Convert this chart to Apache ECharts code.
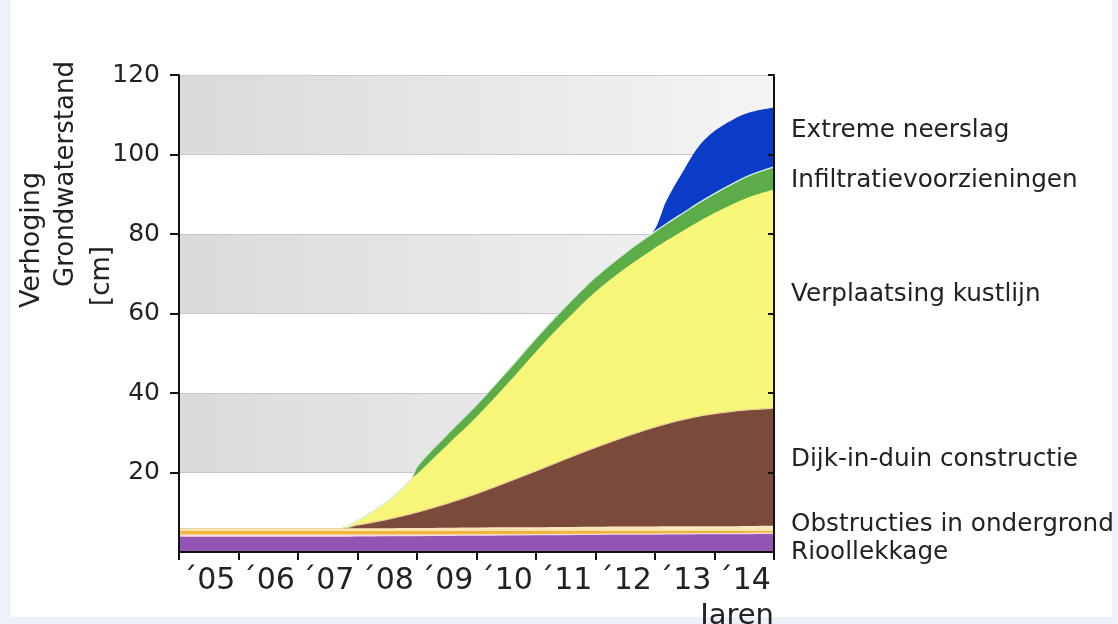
<!DOCTYPE html>
<html><head><meta charset="utf-8">
<script src="https://cdn.jsdelivr.net/npm/echarts@6/dist/echarts.min.js"></script>
<style>
html,body{margin:0;padding:0;background:#edf1fa;width:1118px;height:624px;overflow:hidden}
#frame{position:absolute;left:11px;top:0;width:1101px;height:617px;background:#fff}
#chart{position:absolute;left:0;top:0;width:1118px;height:624px}
</style></head><body>
<div id="frame"></div><div id="chart"></div>
<script>
// ---- data ----
const yearLabels = ['\u00b405','\u00b406','\u00b407','\u00b408','\u00b409','\u00b410','\u00b411','\u00b412','\u00b413','\u00b414'];
const yTicks = [0, 20, 40, 60, 80, 100, 120];
const years = [2005, 2007.7, 2008, 2008.5, 2008.9, 2009, 2009.5, 2010, 2010.5, 2011, 2011.5, 2012, 2012.5, 2012.95, 2013.2, 2013.5, 2013.75, 2014, 2014.3, 2014.6, 2015];
const rioollekkage = [4.0, 4.0, 4.05, 4.1, 4.15, 4.15, 4.2, 4.25, 4.3, 4.35, 4.4, 4.45, 4.5, 4.5, 4.55, 4.55, 4.6, 4.6, 4.6, 4.65, 4.7];
const obstructies = [1.9, 1.9, 1.9, 1.9, 1.9, 1.9, 1.9, 1.9, 1.9, 1.9, 1.9, 1.9, 1.9, 1.9, 1.9, 1.9, 1.9, 1.9, 1.9, 1.9, 1.9];
const dijkInDuin = [0, 0, 0.85, 2.2, 3.55, 3.95, 6.1, 8.55, 11.3, 14.15, 17.1, 19.95, 22.6, 24.8, 25.85, 26.95, 27.7, 28.3, 28.9, 29.25, 29.6];
const kustlijn = [0, 0, 1.1, 4.6, 8.7, 9.6, 14.6, 19.3, 24.5, 30.0, 34.9, 39.2, 42.4, 44.8, 46.1, 47.7, 49.1, 50.5, 52.1, 53.6, 55.0];
const infiltratie = [0, 0, 0, 0, 0, 1.9, 2.7, 3.0, 3.2, 3.35, 3.5, 3.65, 3.85, 4.1, 4.25, 4.45, 4.65, 4.85, 5.1, 5.4, 5.7];
const neerslag = [0, 0, 0, 0, 0, 0, 0, 0, 0, 0, 0, 0, 0, 0, 5.95, 10.95, 14.35, 15.75, 16.1, 15.8, 14.9];
const seriesNames = ['Rioollekkage', 'Obstructies in ondergrond', 'Dijk-in-duin constructie', 'Verplaatsing kustlijn', 'Infiltratievoorzieningen', 'Extreme neerslag'];
const yTitleLines = ['Verhoging', 'Grondwaterstand', '[cm]'];
const xTitle = 'Jaren';

// ---- cumulative layers (stack computed from the arrays) ----
const layers = [rioollekkage, obstructies, dijkInDuin, kustlijn, infiltratie, neerslag];
const cumul = [];
layers.forEach((arr, k) => {
  cumul.push(arr.map((v, i) => v + (k ? cumul[k - 1][i] : 0)));
});

const chart = echarts.init(document.getElementById('chart'), null, {renderer: 'canvas'});
const pairs = arr => years.map((y, i) => [y, arr[i]]);
const font = 'DejaVu Sans, Verdana, sans-serif';

const grayBand = new echarts.graphic.LinearGradient(0, 0, 1, 0, [
  {offset: 0, color: '#dadada'}, {offset: 1, color: '#f5f5f5'}
]);
const obstrGrad = new echarts.graphic.LinearGradient(0, 0, 0, 1, [
  {offset: 0, color: '#fbe9c0'}, {offset: 0.2, color: '#fbe4ac'},
  {offset: 0.205, color: '#f2b43c'}, {offset: 0.33, color: '#f2b43c'},
  {offset: 0.335, color: '#f7dede'}, {offset: 1, color: '#f7dede'}
]);
const colors = ['#9355b3', obstrGrad, '#7b4a3b', '#f8f679', '#5cad4a', '#0b3cc8'];
const lines = ['#f7dede', null, '#ecd39a', null, '#dcefe0', null];

const series = [];
for (let k = layers.length - 1; k >= 0; k--) {
  series.push({
    name: seriesNames[k], type: 'line', xAxisIndex: 1, yAxisIndex: 0,
    data: pairs(cumul[k]), symbol: 'none', smooth: 0.35,
    lineStyle: lines[k] ? {color: lines[k], width: 1.3} : {width: 0},
    areaStyle: {color: colors[k], opacity: 1, origin: 'start'},
    emphasis: {disabled: true}, silent: true
  });
}

const rightLabels = [
  {t: seriesNames[5], y: 131},
  {t: seriesNames[4], y: 181},
  {t: seriesNames[3], y: 295},
  {t: seriesNames[2], y: 460},
  {t: seriesNames[1], y: 525},
  {t: seriesNames[0], y: 553}
];

const option = {
  animation: false,
  backgroundColor: 'transparent',
  grid: {left: 179, top: 75, width: 595, height: 477, outerBoundsMode: 'none', containLabel: false},
  xAxis: [
    {type: 'category', data: yearLabels, boundaryGap: true, position: 'bottom', z: 10,
     axisLine: {show: true, lineStyle: {color: '#111', width: 2}},
     axisTick: {show: true, length: 8, lineStyle: {color: '#111', width: 2}},
     axisLabel: {interval: 0, fontSize: 30, color: '#222', fontFamily: font, margin: 14},
     splitLine: {show: false},
     name: xTitle, nameLocation: 'end', nameGap: 0,
     nameTextStyle: {fontSize: 29, color: '#222', fontFamily: font, align: 'right', verticalAlign: 'top', padding: [50, 0, 0, 0]}},
    {type: 'value', min: 2005, max: 2015, show: false}
  ],
  yAxis: [
    {type: 'value', min: 0, max: 120, interval: 20, position: 'left',
     axisLine: {show: false}, axisTick: {show: false},
     axisLabel: {fontSize: 25, color: '#222', fontFamily: font, margin: 19,
       formatter: v => yTicks.indexOf(v) > 0 ? String(v) : ''},
     splitLine: {show: true, lineStyle: {color: '#c8c8c8', width: 1}},
     splitArea: {show: true, areaStyle: {color: ['#ffffff', grayBand]}}},
    {type: 'value', min: 0, max: 120, interval: 20, position: 'right', z: 10,
     axisLine: {show: true, lineStyle: {color: '#111', width: 2}},
     axisTick: {show: true, inside: true, length: 6, lineStyle: {color: '#111', width: 2}},
     axisLabel: {show: false}, splitLine: {show: false}},
    {type: 'value', min: 0, max: 120, interval: 20, position: 'left', z: 10,
     axisLine: {show: true, onZero: false, lineStyle: {color: '#111', width: 2}},
     axisTick: {show: true, length: 9, customValues: [20, 40, 60, 80, 100, 120], lineStyle: {color: '#111', width: 2}},
     axisLabel: {show: false}, splitLine: {show: false}}
  ],
  series: series,
  graphic: [
    {type: 'text', x: 32, y: 240, rotation: Math.PI / 2, silent: true,
     style: {text: yTitleLines[0], fontSize: 27, fontFamily: font, fill: '#222', align: 'center', verticalAlign: 'middle'}},
    {type: 'text', x: 66, y: 174, rotation: Math.PI / 2, silent: true,
     style: {text: yTitleLines[1], fontSize: 26, fontFamily: font, fill: '#222', align: 'center', verticalAlign: 'middle'}},
    {type: 'text', x: 102, y: 276, rotation: Math.PI / 2, silent: true,
     style: {text: yTitleLines[2], fontSize: 26, fontFamily: font, fill: '#222', align: 'center', verticalAlign: 'middle'}}
  ].concat(rightLabels.map(l => ({
    type: 'text', x: 791, y: l.y, silent: true,
    style: {text: l.t, fontSize: 24.7, fontFamily: font, fill: '#222', align: 'left', verticalAlign: 'middle'}
  })))
};
chart.setOption(option);
</script>
</body></html>
